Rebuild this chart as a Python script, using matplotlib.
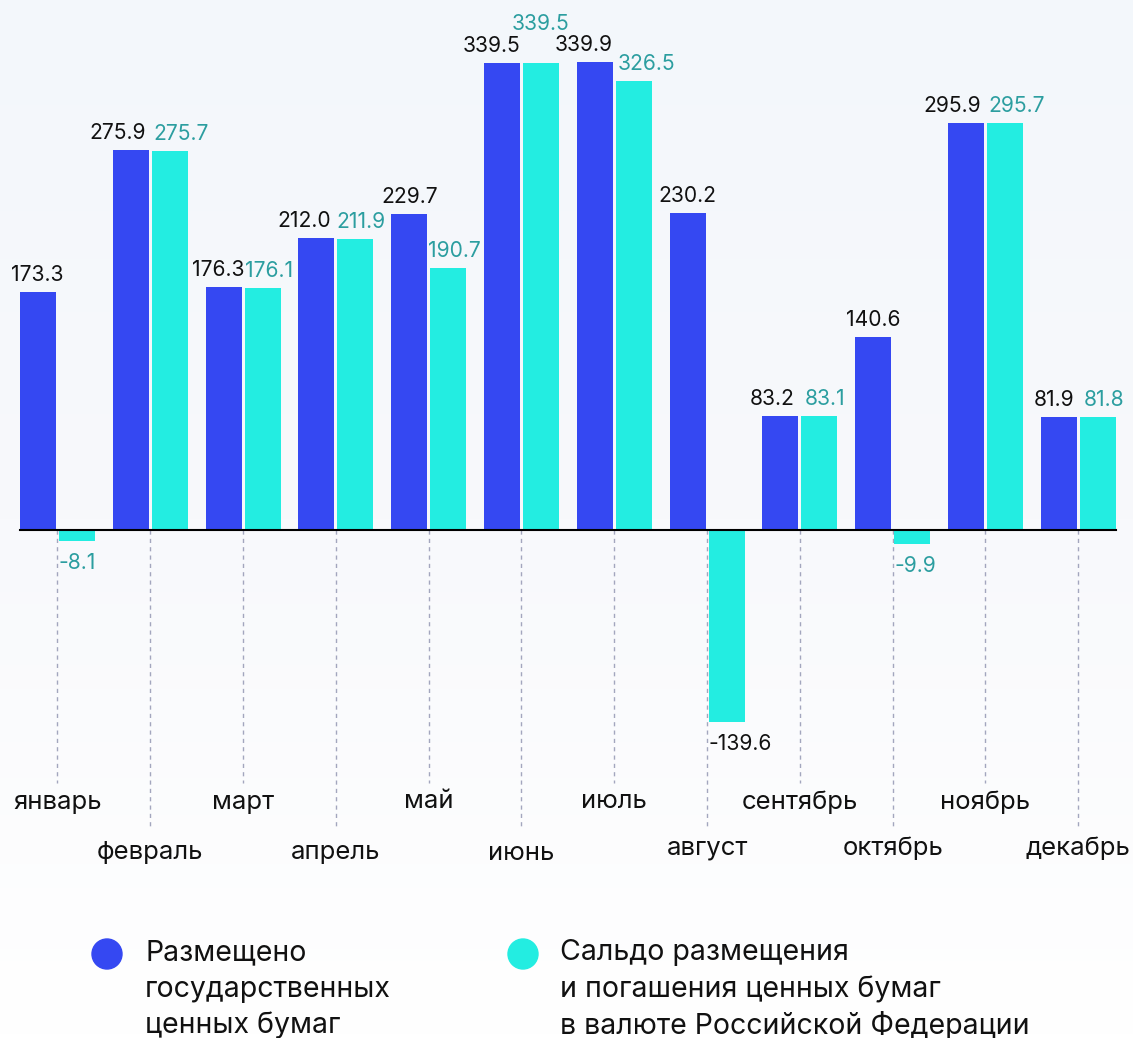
import numpy as np
import matplotlib
matplotlib.use("Agg")
import matplotlib.pyplot as plt
from matplotlib.transforms import blended_transform_factory
from matplotlib.patches import Circle
from matplotlib.colors import LinearSegmentedColormap

plt.rcParams['font.family'] = ['Inter', 'DejaVu Sans']

months = ["январь", "февраль", "март", "апрель", "май", "июнь",
          "июль", "август", "сентябрь", "октябрь", "ноябрь", "декабрь"]
placed = [173.3, 275.9, 176.3, 212.0, 229.7, 339.5, 339.9, 230.2, 83.2, 140.6, 295.9, 81.9]
balance = [-8.1, 275.7, 176.1, 211.9, 190.7, 339.5, 326.5, -139.6, 83.1, -9.9, 295.7, 81.8]
legend_labels = ["Размещено\nгосударственных\nценных бумаг",
                 "Сальдо размещения\nи погашения ценных бумаг\nв валюте Российской Федерации"]

# label nudges (pixels) used in the reference to keep neighbouring value labels apart
blue_dx = [-1, -13, -5.5, -12.5, 0, -10, -11, 0, -8, 0, -14, -4.5]
cyan_dx = [0, 11, 6.5, 6, 6.5, 0, 13, 0, 6, 0, 12, 6]
cyan_dy = [0, 0, 0, 0, 0, 22, 0, 0, 0, 0, 0, 0]

BLUE = "#3548F2"
CYAN = "#23EDE1"
TEAL = "#2C9EA0"

W, H = 1133, 1038
fig = plt.figure(figsize=(W / 100, H / 100), dpi=100)

# background gradient
bg = fig.add_axes([0, 0, 1, 1], zorder=-10)
grad = np.linspace(0, 1, 256).reshape(-1, 1)
cmap = LinearSegmentedColormap.from_list("bg", ["#F3F7FB", "#F8F9FC", "#FFFFFF"])
bg.imshow(grad, aspect="auto", cmap=cmap, extent=[0, 1, 1, 0], vmin=0, vmax=1)
bg.set_axis_off()

ax = fig.add_axes([0, 0, 1, 1])
ax.set_facecolor("none")
pitch = 92.8
scale = 1.3756
zero_px = 530
x = np.arange(len(months))
ax.set_xlim(-57.5 / pitch, (W - 57.5) / pitch)
ax.set_ylim(-(H - zero_px) / scale, zero_px / scale)
ax.set_axis_off()

bw = 36 / pitch
off = 19.5 / pitch
ax.bar(x - off, placed, width=bw, color=BLUE, zorder=3)
ax.bar(x + off, balance, width=bw, color=CYAN, zorder=3)

# zero line
ax.plot([x[0] - off - bw / 2, x[-1] + off + bw / 2], [0, 0], color="black", lw=1.5, zorder=4)

# dashed guide lines and month labels
trans = blended_transform_factory(ax.transData, fig.transFigure)
for i, m in enumerate(months):
    low = i % 2 == 0
    end_px = 783 if low else 826
    ax.plot([x[i], x[i]], [0, -(end_px - zero_px) / scale], color="#A3A6BE",
            lw=1.0, ls=(0, (3, 3)), zorder=1)
    ypx = 802 if low else (853 if i < 7 else 848)
    ax.text(x[i], 1 - ypx / H, m, transform=trans, ha="center", va="center",
            fontsize=18.5, color="#111111")


def fmt(v):
    return f"{v:.1f}"


FS = 15.2
for i in range(len(months)):
    v = placed[i]
    ax.annotate(fmt(v), (x[i] - off, v), xytext=(blue_dx[i], 7),
                textcoords="offset pixels", ha="center", va="bottom",
                fontsize=FS, color="#111111", zorder=5)
    v = balance[i]
    if v >= 0:
        ax.annotate(fmt(v), (x[i] + off, v), xytext=(cyan_dx[i], 7 + cyan_dy[i]),
                    textcoords="offset pixels", ha="center", va="bottom",
                    fontsize=FS, color=TEAL, zorder=5)
    else:
        col = TEAL if v > -50 else "#111111"
        ax.annotate(fmt(v), (x[i] + off - bw / 2, v), xytext=(0, -12),
                    textcoords="offset pixels", ha="left", va="top",
                    fontsize=FS, color=col, zorder=5)

# legend
lax = fig.add_axes([0, 0, 1, 1], zorder=5)
lax.set_xlim(0, W)
lax.set_ylim(H, 0)
lax.set_axis_off()
lax.patch.set_alpha(0)
for cx, col, tx, lab in [(107, BLUE, 145, legend_labels[0]), (523, CYAN, 560, legend_labels[1])]:
    lax.add_patch(Circle((cx, 954), 15, color=col))
    for j, line in enumerate(lab.split("\n")):
        lax.text(tx, 953 + j * 36.5, line, ha="left", va="center", fontsize=20.5, color="#111111")

fig.savefig("out.png", dpi=100)
